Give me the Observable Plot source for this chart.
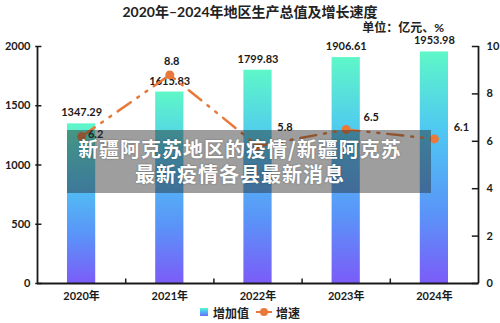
<!DOCTYPE html>
<html><head><meta charset="utf-8">
<script src="https://cdn.jsdelivr.net/npm/d3@7"></script>
<script src="https://cdn.jsdelivr.net/npm/@observablehq/plot@0.6"></script>
<style>
body{margin:0;background:#fff;}
#wrap{position:relative;width:500px;height:323px;overflow:hidden;font-family:Lato,"Noto Sans CJK SC",sans-serif;background:#fff;}
#title{position:absolute;left:0;top:3px;width:500px;text-align:center;font-size:14px;font-weight:700;color:#222;line-height:18px;}
#unit{position:absolute;right:56px;top:20px;font-size:12px;font-weight:700;color:#222;line-height:16px;}
#chart{position:absolute;left:0;top:0;}
#banner{position:absolute;left:67px;top:130px;width:364px;height:63px;background:rgba(40,40,40,0.45);color:#fff;font-weight:700;font-size:20px;letter-spacing:1px;text-align:center;line-height:25px;padding-top:6px;padding-right:18px;box-sizing:border-box;font-family:"Noto Sans CJK SC",sans-serif;text-shadow:0 0 2px rgba(0,0,0,.35);}
#legend{position:absolute;top:304px;left:0;width:500px;height:16px;display:flex;justify-content:center;align-items:center;font-size:12px;font-weight:700;color:#222;}
.sw{width:8px;height:8px;background:linear-gradient(#5ef7c8,#4cbcf4 45%,#6c6ff8);margin-right:5px;}
</style>
</head><body>
<div id="wrap">
  <div id="chart"></div>
  <div id="title">2020年–2024年地区生产总值及增长速度</div>
  <div id="unit">单位：亿元、%</div>
  <div id="banner">新疆阿克苏地区的疫情/新疆阿克苏<br>最新疫情各县最新消息</div>
  <div id="legend"><span class="sw"></span><span>增加值</span><svg width="16" height="10" style="margin:0 4px 0 7px"><line x1="0" y1="5" x2="16" y2="5" stroke="#e8793a" stroke-width="2"/><circle cx="8" cy="5" r="4" fill="#e8793a"/></svg><span>增速</span></div>
</div>
<script>
const years = ["2020年","2021年","2022年","2023年","2024年"];
const gdp = [1347.29, 1615.83, 1799.83, 1906.61, 1953.98];
const growth = [6.2, 8.8, 5.8, 6.5, 6.1];
const leftTicks = [0, 500, 1000, 1500, 2000];
const rightTicks = [0, 2, 4, 6, 8, 10];

const data = years.map((year, i) => ({i, year, gdp: gdp[i], growth: growth[i]}));
const k = 2000 / 10; // right axis (0-10) onto left axis (0-2000)
const orange = "#e8793a";
const ink = "#1a1a1a";
// label offsets for the growth labels (style)
const lblShift = [[14,-2],[2,-13],[27,-19],[25,-12],[27,-11]];

const defs = () => {
  const s = d3.create("svg:defs");
  const g = s.append("linearGradient").attr("id","barGrad")
    .attr("x1",0).attr("y1",0).attr("x2",0).attr("y2",1);
  [[0,"#5ef7c8"],[0.35,"#4fc6f3"],[0.7,"#5a94f8"],[1,"#7b5cf8"]]
    .forEach(([o,c]) => g.append("stop").attr("offset",o).attr("stop-color",c));
  return s.node();
};

const chart = Plot.plot({
  width: 500, height: 323,
  marginTop: 46, marginBottom: 40, marginLeft: 37, marginRight: 22,
  style: {fontFamily: 'Lato, "Noto Sans CJK SC", sans-serif', fontSize: "11px", color: ink, background: "transparent"},
  x: {type: "linear", domain: [-0.5, 4.5]},
  y: {domain: [0, 2000]},
  marks: [
    defs,
    Plot.rect(data, {x1: d => d.i - 0.16, x2: d => d.i + 0.16, y1: 0, y2: "gdp", fill: "url(#barGrad)"}),
    Plot.ruleX([-0.5, 4.5], {y1: 0, y2: 2000, stroke: ink, strokeWidth: 1.8}),
    Plot.ruleY([0], {x1: -0.5, x2: 4.5, stroke: ink, strokeWidth: 1.8}),
    Plot.ruleY(leftTicks, {y: d => d, x1: -0.52, x2: -0.45, stroke: ink, strokeWidth: 1.5}),
    Plot.ruleY(rightTicks, {y: d => d * k, x1: 4.43, x2: 4.51, stroke: ink, strokeWidth: 1.5}),
    Plot.ruleX([0.5, 1.5, 2.5, 3.5], {y1: 0, y2: 38, stroke: ink, strokeWidth: 1.5}),
    Plot.axisY(leftTicks, {anchor: "left", tickSize: 0, tickPadding: 7, fontWeight: 700, tickFormat: d => String(d), label: null}),
    Plot.axisY(rightTicks.map(v => v * k), {anchor: "right", tickSize: 0, tickPadding: 8, fontWeight: 700, tickFormat: d => String(d / k), label: null}),
    Plot.axisX([0,1,2,3,4], {tickSize: 0, tickPadding: 9, fontWeight: 700, tickFormat: i => years[i], label: null}),
    Plot.text(data, {x: "i", y: "gdp", text: d => d.gdp.toFixed(2), dy: -11, fontWeight: 700, fontSize: 11, fill: ink}),
    Plot.line(data, {x: "i", y: d => d.growth * k, stroke: orange, strokeWidth: 2.5, strokeDasharray: "16,8,2,8,2,8"}),
    Plot.dot(data, {x: "i", y: d => d.growth * k, r: 4.5, fill: orange}),
    ...data.map((d, j) => Plot.text([d], {x: "i", y: e => e.growth * k, text: e => e.growth.toFixed(1),
      dx: lblShift[j][0], dy: lblShift[j][1], fontWeight: 700, fontSize: 11, fill: ink}))
  ]
});
document.getElementById("chart").appendChild(chart);
</script>
</body></html>
